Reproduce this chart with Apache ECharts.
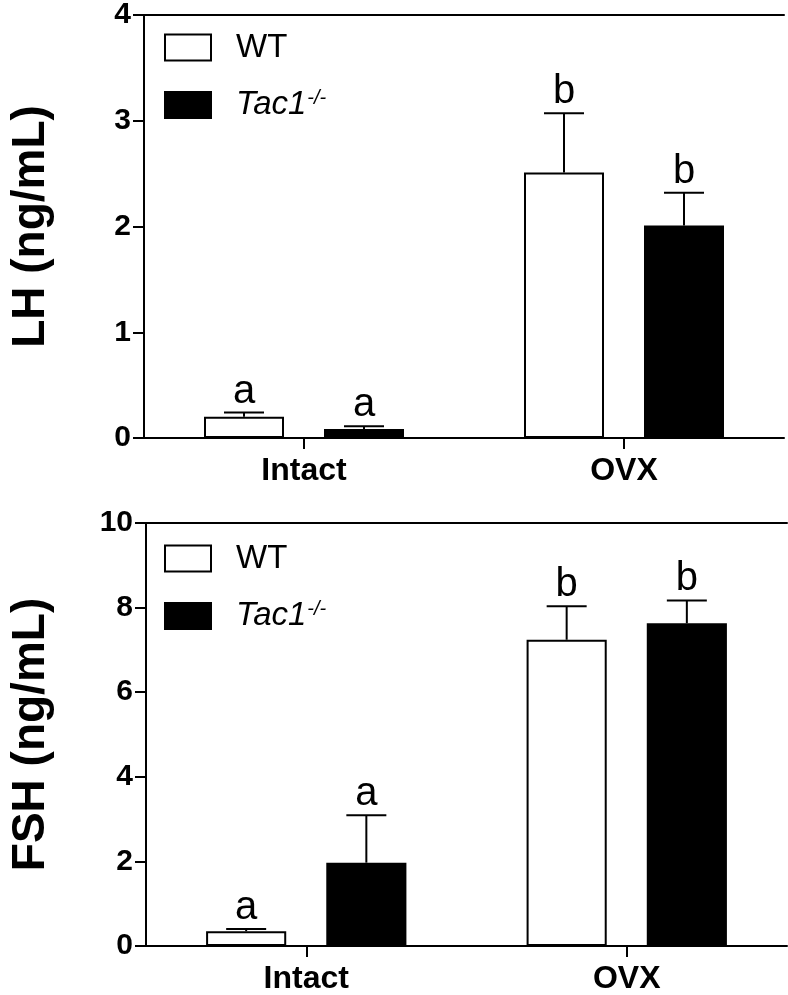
<!DOCTYPE html>
<html>
<head>
<meta charset="utf-8">
<script src="https://cdn.jsdelivr.net/npm/echarts@6/dist/echarts.min.js"></script>
<style>
html,body{margin:0;padding:0;background:#fff;}
#chart{width:788px;height:995px;}
</style>
</head>
<body>
<div id="chart"></div>
<script>
// ---- data ----
const categories = ['Intact', 'OVX'];
const lhWT = [0.2, 2.51];
const lhWTErr = [0.04, 0.56];
const lhKO = [0.085, 2.01];
const lhKOErr = [0.025, 0.31];
const lhWTLetters = ['a', 'b'];
const lhKOLetters = ['a', 'b'];
const fshWT = [0.35, 7.24];
const fshWTErr = [0.05, 0.79];
const fshKO = [1.97, 7.63];
const fshKOErr = [1.12, 0.54];
const fshWTLetters = ['a', 'b'];
const fshKOLetters = ['a', 'b'];
const legendNames = ['WT', 'Tac1'];

const FONT = "'Liberation Sans', Arial, sans-serif";
const chart = echarts.init(document.getElementById('chart'), null, {renderer: 'canvas'});

function errSeries(gridIdx, means, errs, letters, offsetSign) {
  return {
    type: 'custom',
    xAxisIndex: gridIdx * 2,
    yAxisIndex: gridIdx,
    z: 5,
    silent: true,
    data: means.map((m, i) => [i, m, errs[i]]),
    encode: {x: 0, y: 1},
    renderItem: function (params, api) {
      const cat = api.value(0), m = api.value(1), e = api.value(2);
      const band = api.size([1, 0])[0];
      const base = api.coord([cat, m]);
      const top = api.coord([cat, m + e]);
      const x = base[0] + offsetSign * band * 0.1875;
      const style = {stroke: '#000', lineWidth: 2};
      return {
        type: 'group',
        children: [
          {type: 'line', shape: {x1: x, y1: base[1], x2: x, y2: top[1]}, style: style},
          {type: 'line', shape: {x1: x - 20, y1: top[1], x2: x + 20, y2: top[1]}, style: style},
          {type: 'text', style: {x: x, y: top[1] - 1, text: letters[params.dataIndex],
            textAlign: 'center', textVerticalAlign: 'bottom',
            font: '40px ' + FONT, fill: '#000'}}
        ]
      };
    }
  };
}

function legendCfg(top) {
  return {
    top: top, left: 159, orient: 'vertical',
    itemWidth: 46, itemHeight: 26, itemGap: 24,
    icon: 'rect',
    data: legendNames,
    formatter: function (name) {
      return name === 'WT' ? '{n|WT}' : '{i|Tac1}{s|-/-}';
    },
    textStyle: {
      padding: [0, 0, 0, 20],
      rich: {
        n: {fontFamily: FONT, fontSize: 33, color: '#000'},
        i: {fontFamily: FONT, fontSize: 33, fontStyle: 'italic', color: '#000'},
        s: {fontFamily: FONT, fontSize: 20, fontStyle: 'italic', color: '#000', verticalAlign: 'top', padding: [0, 0, 14, 1]}
      }
    }
  };
}

function yAxisCfg(gridIdx, name, max, interval, nameGap) {
  return {
    gridIndex: gridIdx, type: 'value', min: 0, max: max, interval: interval,
    name: name, nameLocation: 'middle', nameGap: nameGap, nameRotate: 90,
    nameTextStyle: {fontFamily: FONT, fontSize: 46, fontWeight: 'bold', color: '#000'},
    axisLine: {show: true, lineStyle: {color: '#000', width: 2}},
    axisTick: {show: true, length: 11, lineStyle: {color: '#000', width: 2}},
    axisLabel: {fontFamily: FONT, fontSize: 30, fontWeight: 'bold', color: '#000', margin: 13},
    splitLine: {show: false}
  };
}

function xAxisCfg(gridIdx) {
  return {
    gridIndex: gridIdx, type: 'category', data: categories,
    axisLine: {show: true, onZero: false, lineStyle: {color: '#000', width: 2}},
    axisTick: {show: true, alignWithLabel: true, length: 11, lineStyle: {color: '#000', width: 2}},
    axisLabel: {fontFamily: FONT, fontSize: 32, fontWeight: 'bold', color: '#000', margin: 17}
  };
}
function xTopCfg(gridIdx) {
  return {
    gridIndex: gridIdx, type: 'category', data: categories, position: 'top',
    axisLine: {show: true, onZero: false, lineStyle: {color: '#000', width: 2}},
    axisTick: {show: false}, axisLabel: {show: false}
  };
}

function barSeries(name, gridIdx, data, filled) {
  return {
    name: name, type: 'bar', xAxisIndex: gridIdx * 2, yAxisIndex: gridIdx,
    data: data, barWidth: '25%', barGap: '50%',
    itemStyle: {color: filled ? '#000' : '#fff', borderColor: '#000', borderWidth: 2},
    emphasis: {disabled: true}
  };
}

const option = {
  backgroundColor: '#fff',
  animation: false,
  textStyle: {fontFamily: FONT},
  grid: [
    {left: 142, right: 4, top: 11, bottom: 557},
    {left: 145, right: 1, top: 523, bottom: 45}
  ],
  legend: [legendCfg(26), legendCfg(537)],
  xAxis: [xAxisCfg(0), xTopCfg(0), xAxisCfg(1), xTopCfg(1)],
  yAxis: [
    yAxisCfg(0, 'LH (ng/mL)', 4, 1, 90),
    yAxisCfg(1, 'FSH (ng/mL)', 10, 2, 92)
  ],
  series: [
    barSeries('WT', 0, lhWT, false),
    barSeries('Tac1', 0, lhKO, true),
    barSeries('WT', 1, fshWT, false),
    barSeries('Tac1', 1, fshKO, true),
    errSeries(0, lhWT, lhWTErr, lhWTLetters, -1),
    errSeries(0, lhKO, lhKOErr, lhKOLetters, 1),
    errSeries(1, fshWT, fshWTErr, fshWTLetters, -1),
    errSeries(1, fshKO, fshKOErr, fshKOLetters, 1)
  ]
};
chart.setOption(option);
</script>
</body>
</html>
